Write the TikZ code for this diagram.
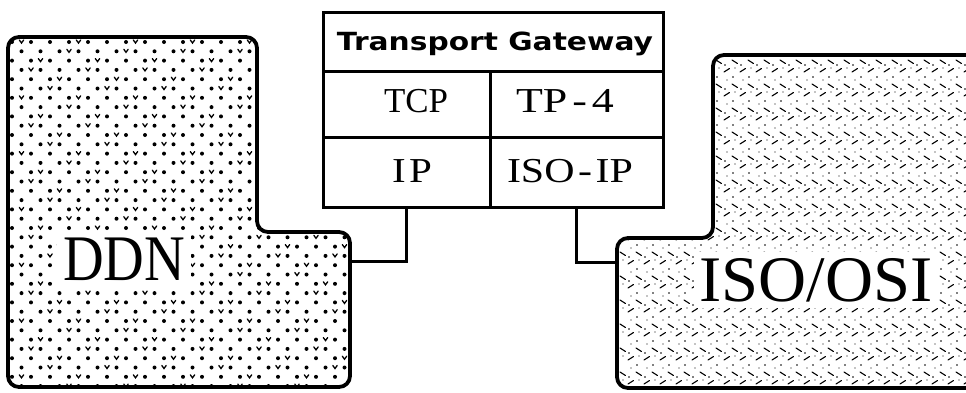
\documentclass[tikz,border=0pt]{standalone}
\usepackage{fontspec}
\setmainfont{Liberation Serif}
\newfontfamily\gwfont{DejaVu Sans}
\usepackage{graphicx}

\begin{document}
\begin{tikzpicture}[x=1pt,y=-1pt,
  outline/.style={line width=3.8pt, line join=round, rounded corners=11pt},
  cellbox/.style={draw, line width=3pt, inner sep=0pt, outer sep=0pt},
  wire/.style={line width=3pt},
  grain/.style={line width=1.3pt, line cap=round},
  finegrain/.style={line width=1.1pt, line cap=round},
  bigtext/.style={font=\fontsize{65}{65}\selectfont, fill=white, inner sep=6pt},
  celltext/.style={font=\fontsize{35}{35}\selectfont, inner sep=0pt},
  titletext/.style={font=\gwfont\bfseries\fontsize{25}{26}\selectfont, inner sep=0pt, anchor=base}
]
\useasboundingbox (0,0) rectangle (966,392);

% DDN network: dotted texture
\begin{scope}
  \clip[rounded corners=11pt]
    (8,37) -- (257,37) -- (257,232) -- (350,232) -- (350,387) -- (8,387) -- cycle;
  \foreach \j in {0,...,38}{
    \foreach \i in {0,...,18}{
      \pgfmathsetmacro\xx{12+19*\i+9.5*mod(\j,2)}
      \pgfmathsetmacro\yy{42+9.3*\j}
      \fill (\xx,\yy) circle (2pt);
      \pgfmathtruncatemacro\vm{mod(\i+\j,3)}
      \ifnum\vm=0
        \draw[grain] (\xx+7.3,\yy-2) -- (\xx+9.5,\yy+1) -- (\xx+11.7,\yy-2);
      \fi
    }
  }
\end{scope}
\path[outline, draw]
  (8,37) -- (257,37) -- (257,232) -- (350,232) -- (350,387) -- (8,387) -- cycle;
\node[bigtext] (ddn) at (124,259) {\resizebox{122pt}{\height}{DDN}};

% ISO/OSI network: dashed zigzag texture
\begin{scope}
  \clip (0,0) rectangle (966,392);
  \clip[rounded corners=11pt]
    (617,238) -- (713,238) -- (713,55) -- (980,55) -- (980,388) -- (617,388) -- cycle;
  \foreach \j in {0,...,27}{
    \foreach \i in {0,...,22}{
      \pgfmathsetmacro\xx{620+16*\i+8*mod(\j,2)}
      \pgfmathsetmacro\yy{60+12*\j}
      \pgfmathsetmacro\dy{3.5*(1-2*mod(\j,2))}
      \draw[finegrain] (\xx,\yy) -- ++(5.5,\dy);
      \fill (\xx+9,\yy+5) circle (0.8pt);
      \fill (\xx+3,\yy+8) circle (0.7pt);
    }
  }
\end{scope}
\begin{scope}
  \clip (0,0) rectangle (966,392);
  \path[outline, draw]
    (617,238) -- (713,238) -- (713,55) -- (980,55) -- (980,388) -- (617,388) -- cycle;
\end{scope}
\node[bigtext] (iso) at (816,280) {\resizebox{233pt}{\height}{ISO/OSI}};

% Transport gateway
\node[cellbox, minimum width=340pt, minimum height=59pt] (title) at (493,41.5) {};
\node[cellbox, minimum width=167pt, minimum height=66pt] (tcp) at (406.5,104) {};
\node[cellbox, minimum width=173pt, minimum height=66pt] (tp) at (576.5,104) {};
\node[cellbox, minimum width=167pt, minimum height=70pt] (ip) at (406.5,172) {};
\node[cellbox, minimum width=173pt, minimum height=70pt] (isoip) at (576.5,172) {};

\node[titletext] (titlelabel) at (495,50) {\resizebox{316pt}{\height}{Transport Gateway}};
\node[celltext] (tcplabel) at (416,101) {\resizebox{64pt}{\height}{TCP}};
\node[celltext] (tplabel) at (565,101) {\resizebox{98pt}{\height}{TP\kern4pt-\kern4pt4}};
\node[celltext] (iplabel) at (412,171) {\resizebox{40pt}{\height}{I\kern3ptP}};
\node[celltext] (isoiplabel) at (570,171) {\resizebox{126pt}{\height}{ISO\kern3pt-\kern3ptIP}};

% connectors
\coordinate (ddnport) at (350,261);
\coordinate (isoport) at (617,262);
\draw[wire] (ip.south) |- (ddnport);
\draw[wire] (isoip.south) |- (isoport);
\end{tikzpicture}
\end{document}
